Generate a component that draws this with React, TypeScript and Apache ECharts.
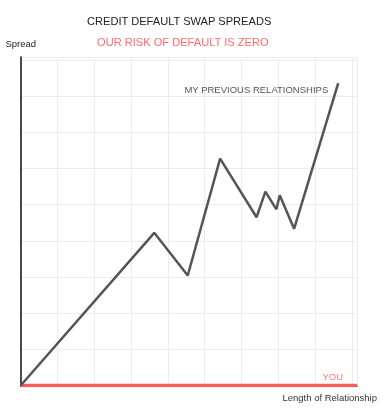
import React, { useEffect, useRef } from "react";
import * as echarts from "echarts";

const titleText = "CREDIT DEFAULT SWAP SPREADS";
const subtitleText = "OUR RISK OF DEFAULT IS ZERO";
const yAxisName = "Spread";
const xAxisName = "Length of Relationship";
const previousName = "MY PREVIOUS RELATIONSHIPS";
const youName = "YOU";

const previousX = [0, 3.63, 4.54, 5.42, 6.41, 6.65, 6.95, 7.04, 7.43, 8.63];
const previousY = [0, 4.22, 3.04, 6.27, 4.65, 5.36, 4.87, 5.26, 4.33, 8.36];
const youX = [0, 9.14];
const youY = [0, 0];

const FONT = "'Liberation Sans', Arial, Helvetica, sans-serif";

export default function App() {
  const ref = useRef<HTMLDivElement>(null);
  useEffect(() => {
    if (!ref.current) return;
    const chart = echarts.init(ref.current, undefined, { renderer: "svg" });
    const prevData = previousX.map((x, i) => {
      const item: any = { value: [x, previousY[i]] };
      if (i === previousX.length - 1) {
        item.label = {
          show: true,
          formatter: previousName,
          position: "left",
          distance: 10,
          offset: [0, 6],
          color: "#555",
          fontSize: 9.5,
          fontFamily: FONT,
        };
      }
      return item;
    });
    const youData = youX.map((x, i) => {
      const item: any = { value: [x, youY[i]] };
      if (i === youX.length - 1) {
        item.label = {
          show: true,
          formatter: youName,
          position: "left",
          distance: 14,
          offset: [0, -9],
          color: "#ff7b7b",
          fontSize: 9.5,
          fontFamily: FONT,
        };
      }
      return item;
    });
    chart.setOption({
      animation: false,
      title: [
        {
          text: titleText,
          left: 87,
          top: 15,
          padding: 0,
          textStyle: { fontSize: 11.1, fontWeight: "normal", color: "#222", fontFamily: FONT },
        },
        {
          text: subtitleText,
          left: 97,
          top: 36,
          padding: 0,
          textStyle: { fontSize: 11.1, fontWeight: "normal", color: "#ff6b6b", fontFamily: FONT },
        },
      ],
      grid: { left: 20.7, right: 30, top: 57, bottom: 34.5 },
      xAxis: {
        type: "value",
        min: 0,
        max: 9.14,
        interval: 1,
        axisLine: { show: true, lineStyle: { color: "#111", width: 1.5 } },
        axisTick: { show: false },
        axisLabel: { show: false },
        splitLine: { show: true, lineStyle: { color: "#ececec", width: 1 } },
      },
      yAxis: {
        type: "value",
        min: 0,
        max: 9.08,
        interval: 1,
        name: yAxisName,
        nameLocation: "end",
        nameGap: 9,
        nameTextStyle: { fontSize: 9.5, color: "#222", fontFamily: FONT },
        axisLine: { show: true, lineStyle: { color: "#111", width: 1.5 } },
        axisTick: { show: false },
        axisLabel: { show: false },
        splitLine: { show: true, lineStyle: { color: "#ececec", width: 1 } },
      },
      graphic: [
        {
          type: "text",
          right: 10,
          top: 392,
          style: { text: xAxisName, fill: "#333", font: "9.5px " + FONT },
        },
      ],
      series: [
        {
          type: "line",
          data: youData,
          symbol: "circle",
          symbolSize: 0,
          showSymbol: true,
          lineStyle: { color: "#ff5c5c", width: 3.3 },
          itemStyle: { color: "#ff5c5c" },
          z: 3,
        },
        {
          type: "line",
          data: prevData,
          symbol: "circle",
          symbolSize: 0,
          showSymbol: true,
          lineStyle: { color: "#555", width: 2.5 },
          itemStyle: { color: "#555" },
          z: 4,
        },
      ],
    });
    return () => chart.dispose();
  }, []);
  return (
    <div
      ref={ref}
      style={{ position: "fixed", left: 0, top: 0, width: 387, height: 420 }}
    />
  );
}
